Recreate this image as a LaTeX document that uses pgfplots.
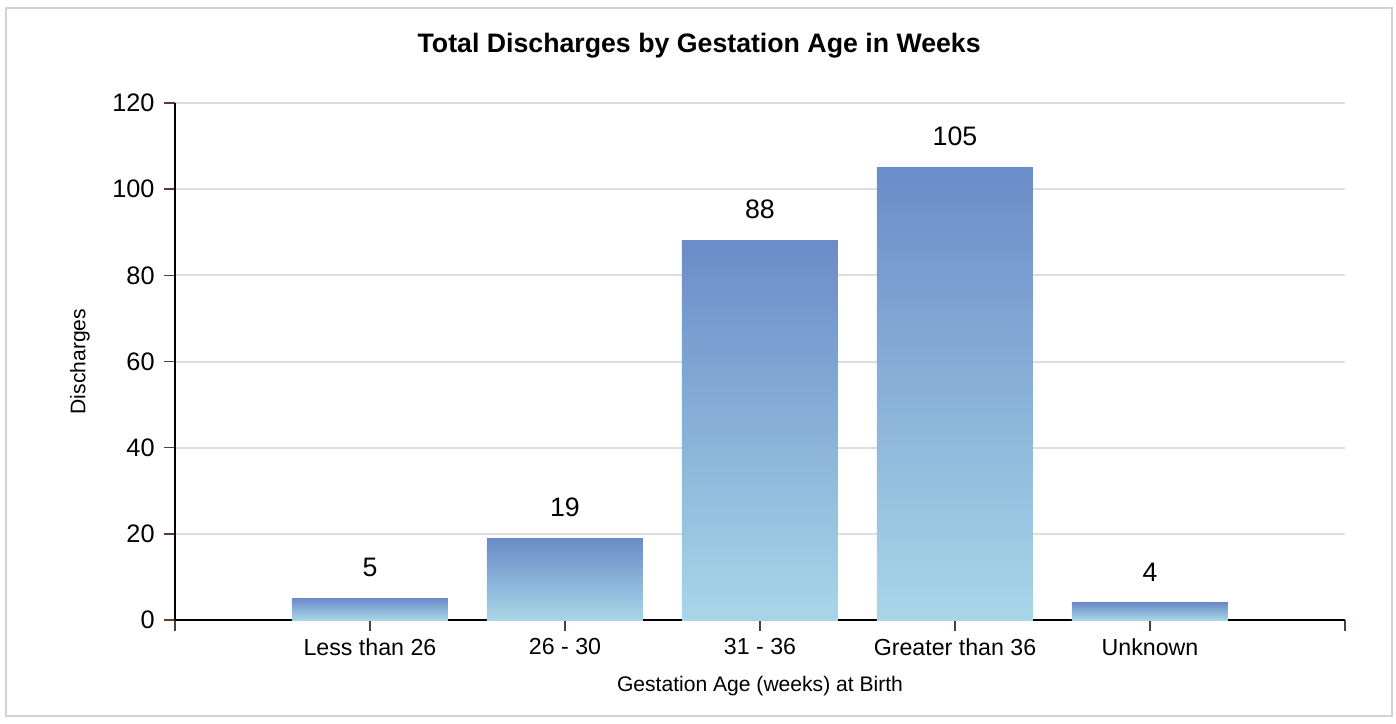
\documentclass[border=0pt]{standalone}
\usepackage{fontspec}
\setmainfont{Liberation Sans}
\usepackage{pgfplots}
\pgfplotsset{compat=1.18}
\definecolor{bartop}{RGB}{106,140,200}
\definecolor{barbottom}{RGB}{168,214,232}
\definecolor{gridgray}{RGB}{221,221,221}
\definecolor{framegray}{RGB}{210,210,210}
\definecolor{tickbrown}{RGB}{90,60,50}

\begin{document}
\begin{tikzpicture}
\useasboundingbox (-1.75,-1.04) rectangle (12.21,6.20);
\draw[framegray, line width=0.025cm] (-1.69,-0.96) rectangle (12.17,6.12);
\begin{axis}[
    at={(0,0)}, anchor=south west,
    scale only axis,
    width=11.7cm, height=5.17cm,
    xmin=0, xmax=6,
    ymin=0, ymax=120,
    xtick={0,1,2,3,4,5,6},
    xticklabels={,Less than 26,26 - 30,31 - 36,Greater than 36,Unknown,},
    ytick={0,20,40,60,80,100,120},
    axis lines=left,
    axis line style={black, line width=0.02cm, -},
    tick align=outside,
    major tick length=0.11cm,
    tick style={tickbrown, line width=0.4pt},
    ymajorgrids,
    grid style={gridgray, line width=0.02cm},
    /pgf/number format/assume math mode=true,
    yticklabel style={font=\fontsize{7.2}{8}\selectfont, xshift=0.03cm},
    xticklabel style={font=\fontsize{6.6}{7}\selectfont, yshift=0.05cm},
    title={\textbf{Total Discharges by Gestation Age in Weeks}},
    title style={at={(axis description cs:0.448,1.110)}, anchor=center, yshift=-0.21cm, font=\fontsize{7.6}{9}\selectfont},
    xlabel={Gestation Age (weeks) at Birth},
    xlabel style={at={(axis description cs:0.5,-0.1277)}, anchor=center, font=\fontsize{6.0}{7}\selectfont},
    ylabel={Discharges},
    ylabel style={at={(axis description cs:-0.0812,0.5)}, anchor=center, font=\fontsize{6.0}{7}\selectfont},
    no markers,
    every axis plot/.append style={ybar, bar shift=0pt, bar width=1.56cm, draw=none,
        top color=bartop, bottom color=barbottom},
    nodes near coords,
    every node near coord/.append style={font=\fontsize{7.6}{9}\selectfont, anchor=south, inner sep=0pt, yshift=0.21cm, black},
    clip=false,
]
\addplot coordinates {(1,5)};
\addplot coordinates {(2,19)};
\addplot coordinates {(3,88)};
\addplot coordinates {(4,105)};
\addplot coordinates {(5,4)};
\end{axis}
\end{tikzpicture}
\end{document}
